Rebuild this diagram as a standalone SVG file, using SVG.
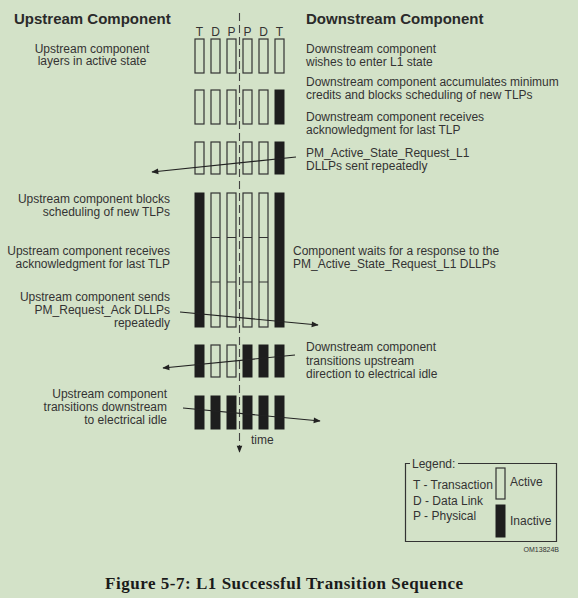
<svg xmlns="http://www.w3.org/2000/svg" width="578" height="598" viewBox="0 0 578 598">
<defs>
<style>
.t{font-family:"Liberation Sans",Arial,sans-serif;font-size:12px;fill:#333}
.h{font-family:"Liberation Sans",Arial,sans-serif;font-size:15px;font-weight:bold;fill:#2a2a2a}
.c{font-family:"Liberation Sans",Arial,sans-serif;font-size:12px;fill:#333;text-anchor:middle}
.r{text-anchor:end}
.m{text-anchor:middle}
.a{fill:none;stroke:#333;stroke-width:1.2}
.i{fill:#1e1e1e;stroke:#1e1e1e;stroke-width:1}
.ln{stroke:#222;stroke-width:1.1;fill:none}
</style>
<marker id="ah" viewBox="0 0 10 10" refX="9" refY="5" markerWidth="9" markerHeight="7" markerUnits="userSpaceOnUse" orient="auto">
<path d="M0,1 L10,5 L0,9 z" fill="#222"/>
</marker>
</defs>
<rect x="0" y="0" width="578" height="598" fill="#d3e2c8"/>

<text class="h" x="14" y="24">Upstream Component</text>
<text class="h" x="306" y="24">Downstream Component</text>

<g id="col-labels">
<text class="c" x="199.5" y="36">T</text>
<text class="c" x="215.5" y="36">D</text>
<text class="c" x="231.5" y="36">P</text>
<text class="c" x="247.5" y="36">P</text>
<text class="c" x="263.5" y="36">D</text>
<text class="c" x="279.5" y="36">T</text>
</g>

<g id="row1">
<rect class="a" x="195" y="39" width="9" height="34"/>
<rect class="a" x="211" y="39" width="9" height="34"/>
<rect class="a" x="227" y="39" width="9" height="34"/>
<rect class="a" x="243" y="39" width="9" height="34"/>
<rect class="a" x="259" y="39" width="9" height="34"/>
<rect class="a" x="275" y="39" width="9" height="34"/>
</g>
<g id="row2">
<rect class="a" x="195" y="90" width="9" height="34"/>
<rect class="a" x="211" y="90" width="9" height="34"/>
<rect class="a" x="227" y="90" width="9" height="34"/>
<rect class="a" x="243" y="90" width="9" height="34"/>
<rect class="a" x="259" y="90" width="9" height="34"/>
<rect class="i" x="275" y="90" width="9" height="34"/>
</g>
<g id="row3">
<rect class="a" x="195" y="142" width="9" height="32"/>
<rect class="a" x="211" y="142" width="9" height="32"/>
<rect class="a" x="227" y="142" width="9" height="32"/>
<rect class="a" x="243" y="142" width="9" height="32"/>
<rect class="a" x="259" y="142" width="9" height="32"/>
<rect class="i" x="275" y="142" width="9" height="32"/>
</g>
<g id="row4">
<rect class="i" x="195" y="193" width="9" height="134"/>
<rect class="a" x="211" y="193" width="9" height="134"/>
<rect class="a" x="227" y="193" width="9" height="134"/>
<rect class="a" x="243" y="193" width="9" height="134"/>
<rect class="a" x="259" y="193" width="9" height="134"/>
<rect class="i" x="275" y="193" width="9" height="134"/>
<path class="a" d="M211,237.5h9M227,237.5h9M243,237.5h9M259,237.5h9M211,282h9M227,282h9M243,282h9M259,282h9"/>
</g>
<g id="row5">
<rect class="i" x="195" y="345" width="9" height="32"/>
<rect class="a" x="211" y="345" width="9" height="32"/>
<rect class="a" x="227" y="345" width="9" height="32"/>
<rect class="i" x="243" y="345" width="9" height="32"/>
<rect class="i" x="259" y="345" width="9" height="32"/>
<rect class="i" x="275" y="345" width="9" height="32"/>
</g>
<g id="row6">
<rect class="i" x="195" y="396" width="9" height="33"/>
<rect class="i" x="211" y="396" width="9" height="33"/>
<rect class="i" x="227" y="396" width="9" height="33"/>
<rect class="i" x="243" y="396" width="9" height="33"/>
<rect class="i" x="259" y="396" width="9" height="33"/>
<rect class="i" x="275" y="396" width="9" height="33"/>
</g>

<g id="connectors">
<line x1="239.5" y1="13" x2="239.5" y2="452" stroke="#444" stroke-width="1.1" stroke-dasharray="8 4" marker-end="url(#ah)"/>
<line class="ln" x1="296" y1="157" x2="152" y2="172" marker-end="url(#ah)"/>
<line class="ln" x1="180" y1="312" x2="318" y2="325" marker-end="url(#ah)"/>
<line class="ln" x1="295" y1="355" x2="163" y2="368" marker-end="url(#ah)"/>
<line class="ln" x1="183" y1="408" x2="320" y2="421" marker-end="url(#ah)"/>
</g>

<text class="t" x="251" y="444">time</text>

<g id="left-text">
<text class="t m" x="92" y="52.5">Upstream component</text>
<text class="t m" x="92" y="65">layers in active state</text>
<text class="t r" x="170" y="203">Upstream component blocks</text>
<text class="t r" x="170" y="216">scheduling of new TLPs</text>
<text class="t r" x="170" y="255">Upstream component receives</text>
<text class="t r" x="170" y="267.5">acknowledgment for last TLP</text>
<text class="t r" x="170" y="300.5">Upstream component sends</text>
<text class="t r" x="170" y="313.5">PM_Request_Ack DLLPs</text>
<text class="t r" x="170" y="326.5">repeatedly</text>
<text class="t r" x="167" y="398">Upstream component</text>
<text class="t r" x="167" y="411">transitions downstream</text>
<text class="t r" x="167" y="424">to electrical idle</text>
</g>

<g id="right-text">
<text class="t" x="306" y="53">Downstream component</text>
<text class="t" x="306" y="65.5">wishes to enter L1 state</text>
<text class="t" x="306" y="85.5">Downstream component accumulates minimum</text>
<text class="t" x="306" y="99">credits and blocks scheduling of new TLPs</text>
<text class="t" x="306" y="120.5">Downstream component receives</text>
<text class="t" x="306" y="133.5">acknowledgment for last TLP</text>
<text class="t" x="306" y="156.5">PM_Active_State_Request_L1</text>
<text class="t" x="306" y="169.5">DLLPs sent repeatedly</text>
<text class="t" x="293" y="255">Component waits for a response to the</text>
<text class="t" x="293" y="268">PM_Active_State_Request_L1 DLLPs</text>
<text class="t" x="306" y="351">Downstream component</text>
<text class="t" x="306" y="364.5">transitions upstream</text>
<text class="t" x="306" y="378">direction to electrical idle</text>
</g>

<g id="legend">
<path d="M410,463.5H405.5V541.5H556.5V463.5H458" fill="none" stroke="#333" stroke-width="1.2"/>
<text class="t" x="412" y="467.5">Legend:</text>
<text class="t" x="413" y="489">T - Transaction</text>
<text class="t" x="413" y="505">D - Data Link</text>
<text class="t" x="413" y="520">P - Physical</text>
<rect class="a" x="496" y="468" width="9" height="31"/>
<rect class="i" x="496" y="505" width="9" height="32"/>
<text class="t" x="510" y="486">Active</text>
<text class="t" x="510" y="525">Inactive</text>
<text x="559" y="552" text-anchor="end" font-family="Liberation Sans,Arial,sans-serif" font-size="7" fill="#333">OM13824B</text>
</g>

<text x="105" y="589" font-family="Liberation Serif,'Times New Roman',serif" font-size="17" font-weight="bold" fill="#1a1a1a" textLength="358" lengthAdjust="spacing">Figure 5-7:  L1 Successful Transition Sequence</text>
</svg>
